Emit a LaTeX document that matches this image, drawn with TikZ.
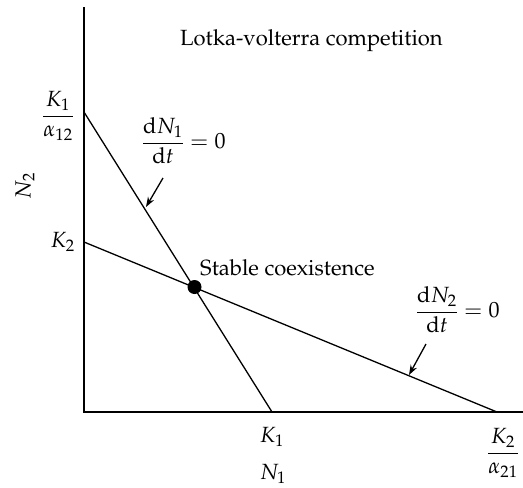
\documentclass[tikz,border=0pt]{standalone}
\usepackage[T1]{fontenc}
\usepackage{amsmath}
\usepackage{mathpazo}
\usetikzlibrary{arrows.meta}
\begin{document}
\begin{tikzpicture}[x=1pt,y=-1pt,
  axisline/.style={line width=1.4pt},
  isocline/.style={line width=1.3pt},
  pointer/.style={line width=1.3pt,-{Stealth[length=10pt,width=7pt]}},
  lbl/.style={inner sep=0pt,font=\fontsize{22}{26}\selectfont}]
\useasboundingbox (0,0) rectangle (523,488);
% axes
\coordinate (Ytop) at (84,7);
\coordinate (O) at (84,412);
\coordinate (Xend) at (523,412);
\draw[axisline] (Ytop) -- (O) -- (Xend);
% isoclines
\coordinate (A1) at (84,112);
\coordinate (B1) at (272,412);
\coordinate (A2) at (84,242);
\coordinate (B2) at (497,412);
\draw[isocline] (A1) -- (B1);
\draw[isocline] (A2) -- (B2);
\fill (194.5,287) circle (7);
% labels
\node[lbl,anchor=base] (k1a12) at (58,121.5) {$\dfrac{K_1}{\alpha_{12}}$};
\node[lbl,anchor=east] (k2y) at (75,242) {$K_2$};
\node[lbl,rotate=90] (n2) at (25,186) {$N_2$};
\node[lbl,anchor=base west] (dn1) at (141.8,148.5) {$\dfrac{\mathrm{d}N_1}{\mathrm{d}t} = 0$};
\node[lbl,anchor=base west] (stable) at (200,275) {Stable coexistence};
\node[lbl,anchor=base west] (dn2) at (415.8,317.5) {$\dfrac{\mathrm{d}N_2}{\mathrm{d}t} = 0$};
\node[lbl] (k1x) at (272,437) {$K_1$};
\node[lbl] (n1) at (273,474) {$N_1$};
\node[lbl,anchor=base] (k2a21) at (503,458.5) {$\dfrac{K_2}{\alpha_{21}}$};
\node[lbl,anchor=base west] (title) at (180,45) {Lotka-volterra competition};
% pointers
\coordinate (p1s) at (163,178);
\coordinate (p1e) at (146,207);
\coordinate (p2s) at (426,344);
\coordinate (p2e) at (409,375);
\draw[pointer] (p1s) -- (p1e);
\draw[pointer] (p2s) -- (p2e);
\end{tikzpicture}
\end{document}
